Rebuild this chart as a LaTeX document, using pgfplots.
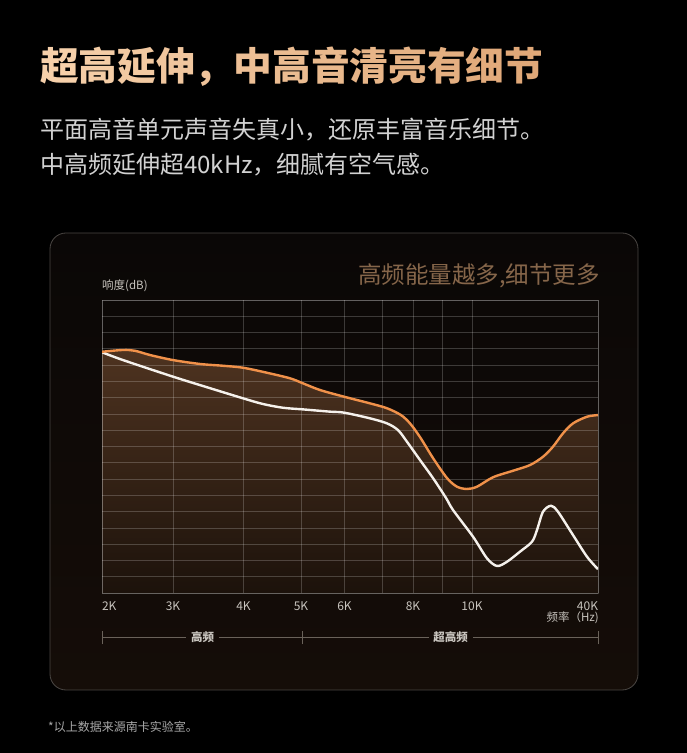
\documentclass[border=0pt]{standalone}
\usepackage{pgfplots}
\pgfplotsset{compat=1.18}
\usepackage{fontspec}
\setmainfont{Noto Sans CJK SC}

\definecolor{orangeln}{HTML}{F0914A}
\definecolor{whiteln}{HTML}{F5F1EC}
\definecolor{filltop}{HTML}{4E3320}
\definecolor{fillbot}{HTML}{1C120B}
\definecolor{panelt}{HTML}{0A0706}
\definecolor{panelb}{HTML}{150D08}
\definecolor{bordc}{HTML}{4A4643}
\definecolor{tL}{HTML}{F6D0AA}
\definecolor{tR}{HTML}{E0A878}
\definecolor{subc}{HTML}{D2D2D2}
\definecolor{notec}{HTML}{86664A}
\definecolor{tickc}{HTML}{C8C4BE}
\definecolor{brackc}{HTML}{6A625A}
\definecolor{footc}{HTML}{A8A8A8}

\newcommand{\tc}[2]{\textcolor{tR!#1!tL}{#2}}

% x: position across the chart, y: loudness in grid steps
\pgfplotstableread{
x y
102 14.82
123 14.93
135 14.88
150 14.62
173 14.31
200 14.07
223 13.96
243 13.84
267 13.53
290 13.19
303 12.88
320 12.47
344 12.06
370 11.65
387 11.35
401 10.93
410 10.42
420 9.58
433 8.29
447 7.06
457 6.53
467 6.39
477 6.53
493 7.11
513 7.51
530 7.86
543 8.37
553 8.99
563 9.81
573 10.42
587 10.83
598 10.93
}\orangedata

\pgfplotstableread{
x y
102 14.79
123 14.31
173 13.29
207 12.64
243 11.96
263 11.61
283 11.38
303 11.28
330 11.14
344 11.08
370 10.73
387 10.42
398 10.01
407 9.29
420 8.17
433 7.06
446 5.84
453 5.10
473 3.46
487 2.13
497 1.66
507 1.92
520 2.54
532 3.15
537 3.87
543 4.99
551 5.36
558 4.99
573 3.56
587 2.23
598 1.46
}\whitedata

\begin{document}
\begin{tikzpicture}
\path[use as bounding box, fill=black] (0,0) rectangle (687pt,753pt);

% panel
\draw[bordc, line width=0.8pt, rounded corners=16pt, top color=panelt, bottom color=panelb]
  (50pt,63pt) rectangle (638pt,520pt);

% shaded area under the orange curve
\begin{axis}[
  at={(102pt,160pt)}, anchor=south west,
  scale only axis, width=496pt, height=293pt,
  xmin=102, xmax=598, ymin=0, ymax=18,
  hide axis]
  \addplot[draw=none, top color=filltop, bottom color=fillbot, smooth, tension=0.5]
    table[x=x, y=y] {\orangedata} \closedcycle;
\end{axis}

% grid, ticks and curves
\begin{axis}[
  at={(102pt,160pt)}, anchor=south west,
  scale only axis, width=496pt, height=293pt,
  xmin=102, xmax=598, ymin=0, ymax=18,
  xtick={102,173,243.5,301,344.5,382,413,442,472,598},
  xticklabels={\rlap{2K},3K,4K,5K,6K,,8K,,10K,\llap{40K}},
  ytick={0,...,18},
  yticklabels={},
  major tick length=0pt,
  grid=major,
  grid style={white, opacity=0.2, line width=0.7pt},
  axis line style={white, opacity=0.2, line width=0.7pt},
  xticklabel style={anchor=north, inner sep=0pt, yshift=-9pt,
    font=\fontsize{12}{12}\selectfont, text=tickc},
  ]
  \addplot[whiteln, line width=2.4pt, smooth, tension=0.5]
    table[x=x, y=y] {\whitedata};
  \addplot[orangeln, line width=2.4pt, smooth, tension=0.5]
    table[x=x, y=y] {\orangedata};
\end{axis}

% texts
\node[anchor=base west, inner sep=0pt, font=\fontsize{38.7}{40}\selectfont\bfseries]
  at (40pt,672.7pt) {\tc{0}{超}\tc{8}{高}\tc{17}{延}\tc{25}{伸}\tc{33}{，}\tc{42}{中}\tc{50}{高}\tc{58}{音}\tc{67}{清}\tc{75}{亮}\tc{83}{有}\tc{92}{细}\tc{100}{节}};
\node[anchor=base west, inner sep=0pt, text=subc, font=\fontsize{24}{26}\selectfont]
  at (40pt,614.7pt) {平面高音单元声音失真小，还原丰富音乐细节。};
\node[anchor=base west, inner sep=0pt, text=subc, font=\fontsize{24}{26}\selectfont]
  at (40pt,579.7pt) {中高频延伸超40kHz，细腻有空气感。};
\node[anchor=base east, inner sep=0pt, text=notec, font=\fontsize{23.5}{25}\selectfont]
  at (600pt,469.6pt) {高频能量越多,细节更多};
\node[anchor=base west, inner sep=0pt, text=tickc, font=\fontsize{11.5}{12}\selectfont]
  at (102pt,463pt) {响度(dB)};
\node[anchor=base east, inner sep=0pt, text=tickc, font=\fontsize{11.5}{12}\selectfont]
  at (599pt,131pt) {频率（Hz)};

% range brackets
\draw[brackc, line width=0.7pt] (102pt,115.5pt) -- (186pt,115.5pt);
\draw[brackc, line width=0.7pt] (219pt,115.5pt) -- (429pt,115.5pt);
\draw[brackc, line width=0.7pt] (473pt,115.5pt) -- (598pt,115.5pt);
\draw[brackc, line width=0.7pt] (102pt,108.7pt) -- (102pt,122.3pt);
\draw[brackc, line width=0.7pt] (302pt,108.7pt) -- (302pt,122.3pt);
\draw[brackc, line width=0.7pt] (598pt,108.7pt) -- (598pt,122.3pt);
\node[anchor=base, inner sep=0pt, text=tickc, font=\fontsize{11.5}{12}\selectfont\bfseries]
  at (202.5pt,111pt) {高频};
\node[anchor=base, inner sep=0pt, text=tickc, font=\fontsize{11.5}{12}\selectfont\bfseries]
  at (450.7pt,111pt) {超高频};

\node[anchor=base west, inner sep=0pt, text=footc, font=\fontsize{12}{12}\selectfont]
  at (48pt,21.5pt) {*以上数据来源南卡实验室。};
\end{tikzpicture}
\end{document}
